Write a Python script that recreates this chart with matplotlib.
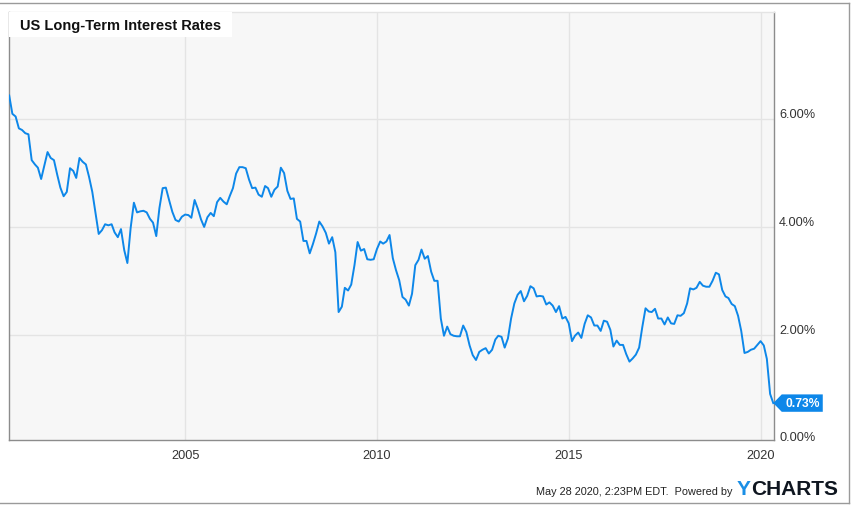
import matplotlib
matplotlib.use('Agg')
import matplotlib.pyplot as plt
import matplotlib.dates as mdates
import pandas as pd
from matplotlib.transforms import ScaledTranslation, blended_transform_factory
from matplotlib.patches import Polygon, Rectangle
from matplotlib.lines import Line2D

plt.rcParams['font.family'] = ['Liberation Sans', 'DejaVu Sans']

# ---- data (monthly, month-end, May 2000 .. Apr 2020), percent ----
start_month = '2000-05-31'
rates_2000 = [6.44, 6.10, 6.05, 5.83, 5.80, 5.74, 5.72, 5.24]
rates_2001 = [5.16, 5.10, 4.89, 5.14, 5.39, 5.28, 5.24, 4.97, 4.73, 4.57, 4.65, 5.09]
rates_2002 = [5.04, 4.91, 5.28, 5.21, 5.16, 4.93, 4.65, 4.26, 3.87, 3.94, 4.05, 4.03]
rates_2003 = [4.05, 3.90, 3.81, 3.96, 3.57, 3.33, 3.98, 4.45, 4.27, 4.29, 4.30, 4.27]
rates_2004 = [4.15, 4.08, 3.83, 4.35, 4.72, 4.73, 4.50, 4.28, 4.13, 4.10, 4.19, 4.23]
rates_2005 = [4.22, 4.17, 4.50, 4.34, 4.14, 4.00, 4.18, 4.26, 4.20, 4.46, 4.54, 4.47]
rates_2006 = [4.42, 4.57, 4.72, 4.99, 5.11, 5.11, 5.09, 4.88, 4.72, 4.73, 4.60, 4.56]
rates_2007 = [4.76, 4.72, 4.56, 4.69, 4.75, 5.10, 5.00, 4.67, 4.52, 4.53, 4.15, 4.10]
rates_2008 = [3.74, 3.74, 3.51, 3.68, 3.88, 4.10, 4.01, 3.89, 3.69, 3.81, 3.53, 2.42]
rates_2009 = [2.52, 2.87, 2.82, 2.93, 3.29, 3.72, 3.56, 3.59, 3.40, 3.39, 3.40, 3.59]
rates_2010 = [3.73, 3.69, 3.73, 3.85, 3.42, 3.20, 3.01, 2.70, 2.65, 2.54, 2.76, 3.29]
rates_2011 = [3.39, 3.58, 3.41, 3.46, 3.17, 3.00, 3.00, 2.30, 1.98, 2.15, 2.01, 1.98]
rates_2012 = [1.97, 1.97, 2.17, 2.05, 1.80, 1.62, 1.53, 1.68, 1.72, 1.75, 1.65, 1.72]
rates_2013 = [1.91, 1.98, 1.96, 1.76, 1.93, 2.30, 2.58, 2.74, 2.81, 2.62, 2.72, 2.90]
rates_2014 = [2.86, 2.71, 2.72, 2.71, 2.56, 2.60, 2.54, 2.42, 2.53, 2.30, 2.33, 2.21]
rates_2015 = [1.88, 1.98, 2.04, 1.94, 2.20, 2.36, 2.32, 2.17, 2.17, 2.07, 2.26, 2.24]
rates_2016 = [2.09, 1.78, 1.89, 1.81, 1.81, 1.64, 1.50, 1.56, 1.63, 1.76, 2.14, 2.49]
rates_2017 = [2.43, 2.42, 2.48, 2.30, 2.30, 2.19, 2.32, 2.21, 2.20, 2.36, 2.35, 2.40]
rates_2018 = [2.58, 2.86, 2.84, 2.87, 2.98, 2.91, 2.89, 2.89, 3.00, 3.15, 3.12, 2.83]
rates_2019 = [2.71, 2.68, 2.57, 2.53, 2.35, 2.07, 1.66, 1.68, 1.72, 1.74, 1.81, 1.88]
rates_2020 = [1.80, 1.55, 0.90, 0.73]

rates = (rates_2000 + rates_2001 + rates_2002 + rates_2003 + rates_2004 + rates_2005 +
         rates_2006 + rates_2007 + rates_2008 + rates_2009 + rates_2010 + rates_2011 +
         rates_2012 + rates_2013 + rates_2014 + rates_2015 + rates_2016 + rates_2017 +
         rates_2018 + rates_2019 + rates_2020)

x_tick_years = [2005, 2010, 2015, 2020]
y_ticks = [2, 4, 6]
y_tick_labels = ['2.00%', '4.00%', '6.00%']
title = 'US Long-Term Interest Rates'
footer = 'May 28 2020, 2:23PM EDT.  Powered by'

BLUE = '#0d87e9'
W, H = 858, 510

dates = pd.date_range(start_month, periods=len(rates), freq='ME')

fig = plt.figure(figsize=(W / 100, H / 100), dpi=100)
fig.patch.set_facecolor('white')
ax = fig.add_axes([9 / W, 1 - 441 / H, 765 / W, 428 / H])
ax.set_facecolor('#f7f7f7')

ax.plot(dates, rates, color=BLUE, lw=1.4, solid_joinstyle='round', zorder=3)

ax.set_xlim(pd.Timestamp('2000-05-29'), pd.Timestamp('2020-05-07'))
ax.set_ylim(0.045, 7.99)

ax.set_xticks([pd.Timestamp(f'{y}-01-01') for y in x_tick_years])
ax.set_xticklabels([str(y) for y in x_tick_years])
ax.yaxis.tick_right()
ax.set_yticks(y_ticks)
ax.set_yticklabels(y_tick_labels)
ax.grid(True, color='#e4e4e4', lw=1, zorder=0)
ax.set_axisbelow(True)
ax.tick_params(axis='both', length=0, labelsize=9.2, labelcolor='#333333')
ax.tick_params(axis='x', pad=6.5)
ax.tick_params(axis='y', pad=3.6)

up = ScaledTranslation(0, 6.6 / 100, fig.dpi_scale_trans)
for lab in ax.get_yticklabels():
    lab.set_transform(lab.get_transform() + up)

# 0.00% label (its gridline sits just below the plot floor)
bt = blended_transform_factory(ax.transAxes, ax.transData)
ax.text(1, 0, '0.00%', transform=bt + ScaledTranslation(5 / 100, 6.6 / 100, fig.dpi_scale_trans),
        ha='left', va='center_baseline', fontsize=9.2, color='#333333', clip_on=False)

for side in ['left', 'bottom', 'right']:
    ax.spines[side].set_color('#8c8c8c')
    ax.spines[side].set_linewidth(1)
ax.spines['top'].set_color('#e4e4e4')
ax.spines['top'].set_linewidth(1)

# title box
ax.add_patch(Rectangle((0, 1 - 25 / 428), 223 / 765, 25 / 428, transform=ax.transAxes,
                       facecolor='white', edgecolor='none', zorder=4, clip_on=False))
ax.text(11.5 / 765, 1 - 13 / 428, title, transform=ax.transAxes, ha='left', va='center',
        fontsize=10.5, fontweight='bold', color='#111111', zorder=5)

# last value flag, anchored at the last data point
last_date, last_val = dates[-1], rates[-1]
pt_tr = fig.dpi_scale_trans + ScaledTranslation(mdates.date2num(last_date), last_val, ax.transData)
verts = [(0, 0), (8.5 / 100, 8.7 / 100), (49.5 / 100, 8.7 / 100),
         (49.5 / 100, -8.7 / 100), (8.5 / 100, -8.7 / 100)]
ax.add_patch(Polygon(verts, closed=True, transform=pt_tr, facecolor=BLUE, edgecolor='none',
                     zorder=6, clip_on=False))
ax.text(29.5 / 100, 0, f'{last_val:.2f}%', transform=pt_tr, ha='center', va='center',
        fontsize=8.7, fontweight='bold', color='white', zorder=7, clip_on=False)

# footer
fig.text(733 / W, 1 - 495 / H, footer, ha='right', va='baseline', fontsize=7.8, color='#222222')
ty = fig.text(737 / W, 1 - 495 / H, 'Y', ha='left', va='baseline', fontsize=15,
              fontweight='bold', color='#1a8fe6')
fig.canvas.draw()
bb = ty.get_window_extent(fig.canvas.get_renderer())
fig.text(bb.x1 / W, 1 - 495 / H, 'CHARTS', ha='left', va='baseline', fontsize=15,
         fontweight='bold', color='#0f1620')

# outer border
lc = '#9a9a9a'
fig.add_artist(Line2D([0, 848.5 / W], [1 - 3.5 / H] * 2, transform=fig.transFigure, color=lc, lw=1))
fig.add_artist(Line2D([848.5 / W] * 2, [1 - 3.5 / H, 1 - 503.5 / H], transform=fig.transFigure, color=lc, lw=1))
fig.add_artist(Line2D([0, 848.5 / W], [1 - 503.5 / H] * 2, transform=fig.transFigure, color=lc, lw=1))

fig.savefig('out.png', dpi=100, facecolor='white')
